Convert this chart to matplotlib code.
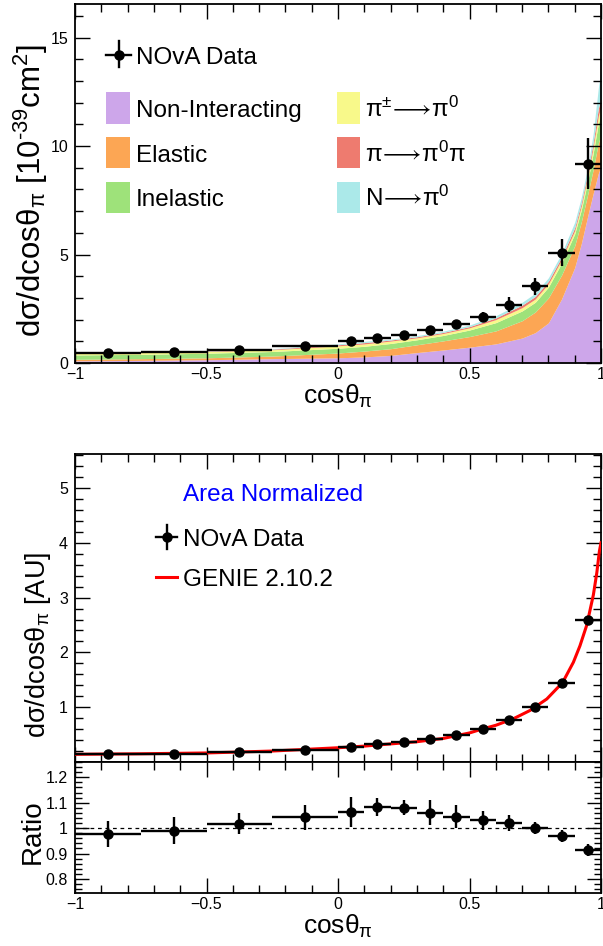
import numpy as np
import matplotlib
matplotlib.use('Agg')
import matplotlib.pyplot as plt
from matplotlib.patches import Rectangle
from matplotlib.lines import Line2D
from matplotlib.ticker import MultipleLocator, FixedLocator, FuncFormatter

plt.rcParams['font.family'] = ['Liberation Sans', 'DejaVu Sans']
plt.rcParams['mathtext.fontset'] = 'custom'
plt.rcParams['mathtext.rm'] = 'Liberation Sans'
plt.rcParams['mathtext.it'] = 'Liberation Sans:italic'
plt.rcParams['mathtext.bf'] = 'Liberation Sans:bold'
plt.rcParams['mathtext.fallback'] = 'stix'
plt.rcParams['axes.unicode_minus'] = True

# ---------------- data ----------------
bin_edges = [-1.0, -0.75, -0.5, -0.25, 0.0, 0.1, 0.2, 0.3, 0.4, 0.5, 0.6, 0.7, 0.8, 0.9, 1.0]
xsec = [0.46, 0.50, 0.62, 0.79, 1.00, 1.14, 1.31, 1.51, 1.78, 2.14, 2.69, 3.53, 5.09, 9.18]
xsec_err = [0.06, 0.06, 0.07, 0.08, 0.10, 0.10, 0.11, 0.13, 0.15, 0.20, 0.33, 0.38, 0.62, 1.17]

norm = [0.14, 0.15, 0.18, 0.22, 0.28, 0.32, 0.37, 0.42, 0.50, 0.60, 0.76, 1.00, 1.44, 2.60]
norm_err = [0.01, 0.01, 0.01, 0.01, 0.015, 0.015, 0.015, 0.02, 0.02, 0.02, 0.02, 0.02, 0.03, 0.05]

ratio = [0.977, 0.990, 1.018, 1.042, 1.064, 1.083, 1.081, 1.061, 1.044, 1.031, 1.020, 1.001, 0.970, 0.913]
ratio_err = [0.053, 0.052, 0.043, 0.050, 0.058, 0.037, 0.029, 0.048, 0.045, 0.037, 0.030, 0.025, 0.023, 0.023]

stack_x = [-1.0, -0.75, -0.5, -0.25, 0.0, 0.1, 0.2, 0.3, 0.4, 0.5, 0.6, 0.7, 0.75, 0.8,
           0.85, 0.9, 0.925, 0.95, 0.97, 0.99, 1.0]
non_interacting = [0.10, 0.12, 0.15, 0.20, 0.24, 0.28, 0.35, 0.48, 0.60, 0.73, 0.88, 1.15, 1.40, 1.85,
                   2.95, 4.40, 5.50, 6.80, 7.80, 8.75, 9.06]
elastic = [0.07, 0.08, 0.09, 0.12, 0.22, 0.27, 0.31, 0.36, 0.42, 0.49, 0.60, 0.80, 0.95, 1.15,
           1.10, 1.00, 1.00, 1.00, 1.10, 1.40, 1.44]
inelastic = [0.20, 0.20, 0.21, 0.21, 0.22, 0.22, 0.24, 0.23, 0.25, 0.30, 0.38, 0.45, 0.45, 0.50,
             0.55, 0.55, 0.55, 0.60, 0.75, 0.90, 1.00]
pipm_to_pi0 = [0.08, 0.08, 0.08, 0.08, 0.11, 0.11, 0.11, 0.09, 0.09, 0.10, 0.14, 0.15, 0.15, 0.15,
               0.16, 0.15, 0.18, 0.22, 0.28, 0.35, 0.30]
pi_to_pi0pi = [0.01, 0.01, 0.02, 0.03, 0.05, 0.06, 0.05, 0.05, 0.05, 0.06, 0.08, 0.12, 0.12, 0.12,
               0.12, 0.14, 0.15, 0.18, 0.22, 0.35, 0.40]
n_to_pi0 = [0.01, 0.01, 0.01, 0.02, 0.04, 0.06, 0.04, 0.05, 0.06, 0.07, 0.10, 0.13, 0.15, 0.16,
            0.17, 0.25, 0.25, 0.25, 0.40, 0.95, 1.30]

genie_x = [-1.0, -0.75, -0.5, -0.25, 0.0, 0.1, 0.2, 0.3, 0.4, 0.5, 0.54, 0.6, 0.667, 0.73,
           0.794, 0.854, 0.895, 0.92, 0.946, 0.971, 0.984, 0.994, 1.0]
genie_norm = [0.14, 0.15, 0.165, 0.20, 0.26, 0.29, 0.33, 0.37, 0.43, 0.53, 0.59, 0.67, 0.79, 0.94,
              1.15, 1.45, 1.82, 2.12, 2.50, 3.05, 3.45, 3.85, 4.0]

ARW = '{\\longrightarrow}'
component_labels = ['Non-Interacting', 'Elastic', 'Inelastic',
                    '$\\mathrm{π}^{\\mathrm{±}}\\!' + ARW + '\\!\\mathrm{π}^{\\mathrm{0}}$',
                    '$\\mathrm{π}\\!' + ARW + '\\!\\mathrm{π}^{\\mathrm{0}}\\mathrm{π}$',
                    '$\\mathrm{N}\\!' + ARW + '\\!\\mathrm{π}^{\\mathrm{0}}$']
component_colors = ['#cda6ea', '#fca654', '#9ee27a', '#f8f98a', '#ee7b6f', '#abe9e9']

# ---------------- figure ----------------
W, H = 603, 946
fig = plt.figure(figsize=(W / 100, H / 100), dpi=100)

def axbox(left, top, right, bottom):
    return [left / W, 1 - bottom / H, (right - left) / W, (bottom - top) / H]

ax1 = fig.add_axes(axbox(75, 4, 601, 363))
ax2 = fig.add_axes(axbox(75, 454, 601, 762))
ax3 = fig.add_axes(axbox(75, 762, 601, 893))

edges = np.array(bin_edges)
centers = 0.5 * (edges[1:] + edges[:-1])
halfw = 0.5 * (edges[1:] - edges[:-1])

# stacked components
sx = np.array(stack_x)
base = np.zeros_like(sx)
for comp, col in zip([non_interacting, elastic, inelastic, pipm_to_pi0, pi_to_pi0pi, n_to_pi0],
                     component_colors):
    top = base + np.array(comp)
    ax1.fill_between(sx, base, top, color=col, lw=0, zorder=1)
    base = top

eb_kw = dict(fmt='o', color='k', ms=6.5, elinewidth=1.7, capsize=0, zorder=5)
ax1.errorbar(centers, xsec, xerr=halfw, yerr=xsec_err, **eb_kw)

ax2.plot(genie_x, genie_norm, color='#ff0000', lw=2.2, zorder=3)
ax2.errorbar(centers, norm, xerr=halfw, yerr=norm_err, **eb_kw)

ax3.axhline(1.0, color='k', lw=0.9, ls=(0, (3, 3)), zorder=1)
ax3.errorbar(centers, ratio, xerr=halfw, yerr=ratio_err, **eb_kw)

# ---------------- axes style ----------------
fmt_g = FuncFormatter(lambda v, p: ('%g' % v).replace('-', '\u2212'))

for ax in (ax1, ax2, ax3):
    ax.set_xlim(-1, 1)
    ax.xaxis.set_major_locator(MultipleLocator(0.5))
    ax.xaxis.set_minor_locator(MultipleLocator(0.1))
    ax.xaxis.set_major_formatter(fmt_g)
    ax.tick_params(which='both', direction='in', top=True, right=True, labelsize=11.5, width=1.0)
    ax.tick_params(axis='y', which='major', length=11, pad=5)
    ax.tick_params(axis='y', which='minor', length=6)
    ax.tick_params(axis='x', which='major', length=11, pad=3)
    ax.tick_params(axis='x', which='minor', length=6)
    for s in ax.spines.values():
        s.set_linewidth(1.3)

ax1.set_ylim(0, 16.55)
ax1.yaxis.set_major_locator(MultipleLocator(5))
ax1.yaxis.set_minor_locator(MultipleLocator(1))
ax1.yaxis.set_major_formatter(fmt_g)

ax2.set_ylim(0, 5.62)
ax2.yaxis.set_major_locator(FixedLocator([1, 2, 3, 4, 5]))
ax2.yaxis.set_minor_locator(MultipleLocator(0.2))
ax2.yaxis.set_major_formatter(fmt_g)
ax2.tick_params(axis='x', labelbottom=False)

ax3.set_ylim(0.745, 1.26)
ax3.yaxis.set_major_locator(FixedLocator([0.8, 0.9, 1.0, 1.1, 1.2]))
ax3.yaxis.set_minor_locator(MultipleLocator(0.02))
ax3.yaxis.set_major_formatter(fmt_g)
ax3.tick_params(axis='y', which='major', length=10)
ax3.tick_params(axis='y', which='minor', length=5)

xl = 'cosθ$_{\\mathrm{π}}$'
fig.text(338 / W, 1 - 396 / H, xl, fontsize=19, ha='center', va='center')
fig.text(338 / W, 1 - 926 / H, xl, fontsize=19, ha='center', va='center')

fig.text(31 / W, 1 - 44 / H, 'dσ/dcosθ$_{\\mathrm{π}}$ [10$^{\\mathrm{\u201039}}$cm$^{\\mathrm{2}}$]',
         fontsize=22.5, rotation=90, ha='center', va='top')
fig.text(38 / W, 1 - 645 / H, 'dσ/dcosθ$_{\\mathrm{π}}$ [AU]',
         fontsize=19.5, rotation=90, ha='center', va='center')
fig.text(33 / W, 1 - 832 / H, 'Ratio', fontsize=20, rotation=90, ha='center', va='center')

# ---------------- legends ----------------
LEG_FS = 17.5

def fxy(px, py):
    return px / W, 1 - py / H

def data_symbol(cx, cy, x0, x1, y0, y1):
    fig.add_artist(Line2D([x0 / W, x1 / W], [1 - cy / H, 1 - cy / H], color='k', lw=1.7))
    fig.add_artist(Line2D([cx / W, cx / W], [1 - y0 / H, 1 - y1 / H], color='k', lw=1.7))
    fig.add_artist(Line2D([cx / W], [1 - cy / H], marker='o', ms=6.5, color='k'))

data_symbol(119, 55, 106, 131, 41, 67)
fig.text(*fxy(136, 64), 'NOvA Data', fontsize=LEG_FS, ha='left', va='baseline')

box_rows = [(92, 124, 117), (137, 168, 162), (182, 213, 206)]
col_x = [(106, 130, 136), (337, 360, 365)]
for i, (lab, col) in enumerate(zip(component_labels, component_colors)):
    c, r = divmod(i, 3)
    bx0, bx1, tx = col_x[c]
    by0, by1, tb = box_rows[r]
    fig.add_artist(Rectangle((bx0 / W, 1 - by1 / H), (bx1 - bx0) / W, (by1 - by0) / H,
                             transform=fig.transFigure, facecolor=col, edgecolor='none'))
    fig.text(*fxy(tx, tb), lab, fontsize=LEG_FS, ha='left', va='baseline')

fig.text(*fxy(183, 501), 'Area Normalized', fontsize=LEG_FS, color='#0000ff', ha='left', va='baseline')
data_symbol(167, 537, 156, 177, 525, 549)
fig.text(*fxy(183, 546), 'NOvA Data', fontsize=LEG_FS, ha='left', va='baseline')
fig.add_artist(Line2D([156 / W, 177 / W], [1 - 577 / H, 1 - 577 / H], color='#ff0000', lw=2.2))
fig.text(*fxy(183, 586), 'GENIE 2.10.2', fontsize=LEG_FS, ha='left', va='baseline')

fig.savefig('out.png', dpi=100)
